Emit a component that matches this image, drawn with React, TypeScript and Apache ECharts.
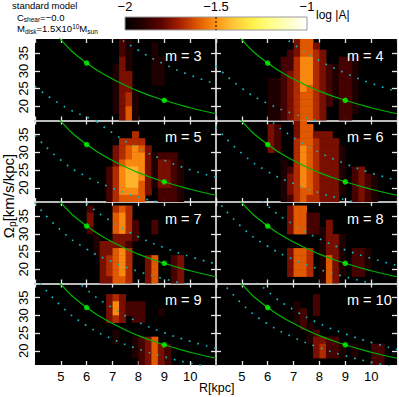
import React, { useEffect, useRef } from 'react';
import * as echarts from 'echarts';

// ---------- data ----------
const MODES = [3, 4, 5, 6, 7, 8, 9, 10];
const R_SAMPLES = [4, 5, 6, 7, 8, 9, 10, 11];
const PATTERN_SPEED = [48.5, 38.8, 32.2, 27.7, 24.3, 21.7, 19.6, 17.9];
const MARK_R = [6, 9];
const MARK_OMEGA = [32.2, 21.7];
const OUTER_RES = [
  [71.4, 57.1, 47.4, 40.8, 35.8, 31.9, 28.8, 26.3],
  [65.6, 52.5, 43.6, 37.5, 32.9, 29.4, 26.5, 24.2],
  [62.2, 49.8, 41.3, 35.5, 31.2, 27.8, 25.1, 23.0],
  [59.9, 47.9, 39.8, 34.2, 30.0, 26.8, 24.2, 22.1],
  [58.3, 46.6, 38.7, 33.3, 29.2, 26.1, 23.6, 21.5],
  [57.1, 45.7, 37.9, 32.6, 28.6, 25.5, 23.1, 21.1],
  [56.1, 44.9, 37.3, 32.1, 28.1, 25.1, 22.7, 20.7],
  [55.4, 44.3, 36.8, 31.6, 27.7, 24.8, 22.4, 20.4],
];
const INNER_RES = [
  [25.6, 20.5, 17.0, 14.6, 12.8, 11.5, 10.4, 9.5],
  [31.4, 25.1, 20.8, 17.9, 15.7, 14.0, 12.7, 11.6],
  [34.8, 27.8, 23.1, 19.9, 17.4, 15.6, 14.1, 12.8],
  [37.1, 29.7, 24.6, 21.2, 18.6, 16.6, 15.0, 13.7],
  [38.7, 31.0, 25.7, 22.1, 19.4, 17.3, 15.6, 14.3],
  [39.9, 31.9, 26.5, 22.8, 20.0, 17.9, 16.1, 14.7],
  [40.9, 32.7, 27.1, 23.3, 20.5, 18.3, 16.5, 15.1],
  [41.6, 33.3, 27.6, 23.8, 20.9, 18.6, 16.8, 15.4],
];

// heat levels: each char = level (log|A| = -2 + 0.08*level), rows from top bin (38-40) downward,
// first char of each row is the R bin given in HEAT_START (bin width 0.25 kpc from R = 4)
const HEAT_START = [12, 8, 11, 8, 8, 11, 11, 12];
const HEAT_M3 = ['021', '0210001', '0210001', '03100011', '13100011', '13300011', '13300011', '133', '1341', '1341', '1351', '0351'];
const HEAT_M4 = ['0000355', '00003553', '000235543', '00224664300221', '00224664321221', '00234664321221', '11234664321221', '11234654321221', '11234554321221', '11234554320221', '11234554300221', '1123455430022'];
const HEAT_M5 = ['', '', '00004', '004444', '0345653', '03456631222', '035666313321', '246776313321', '246776313321', '246775313321', '246665302221', '245555002221'];
const HEAT_M6 = ['000035', '3200355', '3200355333', '32004554333', '320046543331', '000046543331', '001046543331', '001246543331023', '00134654333102321', '00134654333102321', '00134554333102321', '00124544333002321'];
const HEAT_M7 = ['', '2000454', '3000564', '30005642002', '20005642002', '01003332', '0133332', '0133564', '003456400350023', '003456400350023', '003456400350023', '003355400350023'];
const HEAT_M8 = ['', '355', '35522', '3552203', '3552213', '000001331', '000001331', '3554013310221', '3554015310221', '3554015310221', '355401531022', '00000153'];
const HEAT_M9 = ['', '', '343', '363222', '363222001', '343022', '', '01', '01001235', '0000123532', '0000123532', '0000023532'];
const HEAT_M10 = ['', '', '0002', '1002', '1202', '12', '021', '0012', '0013322', '00034221010022', '00034221010022', '00000000000022'];
const HEAT_ROWS = [HEAT_M3, HEAT_M4, HEAT_M5, HEAT_M6, HEAT_M7, HEAT_M8, HEAT_M9, HEAT_M10];

const Y_TICKS = [20, 25, 30, 35];
const COLORBAR_TICKS = [-2, -1.5, -1];
const CMAP = ['#000000', '#260000', '#5c0400', '#a42000', '#e05800', '#ff9414', '#ffc83a', '#fff048', '#ffff88', '#ffffc4', '#ffffff'];

// ---------- layout ----------
const R_MIN = 4, R_MAX = 11, R_BIN = 0.25;
const OM_MIN = 16, OM_MAX = 39, OM_BIN = 2, OM_TOP_BIN = 38;
const LOG_MIN = -2, LOG_MAX = -1, LEVEL_STEP = 0.08;
const ROW_TOPS = [39, 120.5, 202, 283.5];
const ROW_H = 81.5;
const COL_LEFTS = [35, 216];
const COL_W = 181;
const FONT = '"Liberation Sans", Arial, Helvetica, sans-serif';
const CB = { x: 125, y: 17, w: 182, h: 13 };

function cellsFor(i: number) {
  const out: number[][] = [];
  HEAT_ROWS[i].forEach((row, r) => {
    for (let k = 0; k < row.length; k++) {
      const lvl = Number(row[k]);
      if (lvl > 0) out.push([R_MIN + (HEAT_START[i] + k) * R_BIN, OM_TOP_BIN - r * OM_BIN, LOG_MIN + lvl * LEVEL_STEP]);
    }
  });
  return out;
}

const renderHeatCell = (params: any, api: any) => {
  const r0 = api.value(0), o0 = api.value(1);
  const a = api.coord([r0, o0 + OM_BIN]);
  const b = api.coord([r0 + R_BIN, o0]);
  const cs = params.coordSys;
  const shape = echarts.graphic.clipRectByRect(
    { x: a[0], y: a[1], width: b[0] - a[0] + 0.5, height: b[1] - a[1] + 0.5 },
    { x: cs.x, y: cs.y, width: cs.width, height: cs.height }
  );
  if (!shape) return null;
  return { type: 'rect', shape, style: { fill: api.visual('color') } };
};

export default function App() {
  const ref = useRef<HTMLDivElement>(null);
  useEffect(() => {
    const chart = echarts.init(ref.current!, undefined, { renderer: 'svg' });
    const grids: any[] = [];
    const xAxes: any[] = [];
    const yAxes: any[] = [];
    const heat: any[] = [];
    const lines: any[] = [];
    const graphics: any[] = [];
    const tickStyle = { color: '#e6e6e6', width: 1.3 };
    MODES.forEach((m, i) => {
      const row = Math.floor(i / 2), col = i % 2;
      grids.push({ left: COL_LEFTS[col], top: ROW_TOPS[row], width: COL_W, height: ROW_H, show: true, backgroundColor: '#000', borderWidth: 0 });
      const xBase = { type: 'value', gridIndex: i, min: R_MIN, max: R_MAX, interval: 1, splitLine: { show: false } };
      xAxes.push({
        ...xBase, position: 'bottom',
        axisLine: { show: row < 3, onZero: false, lineStyle: { color: '#bdbdbd', width: 2 } },
        axisTick: { show: true, inside: true, length: 4, lineStyle: tickStyle },
        axisLabel: { show: row === 3, showMinLabel: false, showMaxLabel: false, fontSize: 13, fontFamily: FONT, color: '#000', margin: 5 },
      });
      xAxes.push({
        ...xBase, position: 'top',
        axisLine: { show: false, onZero: false },
        axisTick: { show: true, inside: true, length: 4, lineStyle: tickStyle },
        axisLabel: { show: false },
      });
      const yBase = { type: 'value', gridIndex: i, min: OM_MIN, max: OM_MAX, splitLine: { show: false } };
      yAxes.push({
        ...yBase, position: 'left',
        axisLine: { show: col === 1, onZero: false, lineStyle: { color: '#bdbdbd', width: 2 } },
        axisTick: { show: true, inside: true, length: 5, customValues: Y_TICKS, lineStyle: tickStyle },
        axisLabel: { show: col === 0, customValues: Y_TICKS, rotate: 90, fontSize: 13, fontFamily: FONT, color: '#000', margin: 5 },
      });
      yAxes.push({
        ...yBase, position: 'right',
        axisLine: { show: col === 1, onZero: false, lineStyle: { color: '#e8e8e8', width: 1 } },
        axisTick: { show: true, inside: true, length: 5, customValues: Y_TICKS, lineStyle: tickStyle },
        axisLabel: { show: false, customValues: Y_TICKS },
      });
      heat.push({
        type: 'custom', xAxisIndex: 2 * i, yAxisIndex: 2 * i, data: cellsFor(i),
        encode: { x: 0, y: 1 }, renderItem: renderHeatCell, silent: true, z: 1,
      });
      const dotted = { color: '#14b4bc', width: 1.7, type: [1.7, 7] };
      lines.push({
        type: 'line', xAxisIndex: 2 * i, yAxisIndex: 2 * i, smooth: true, showSymbol: false, silent: true, z: 3,
        data: R_SAMPLES.map((r, k) => [r, OUTER_RES[i][k]]), lineStyle: dotted,
      });
      lines.push({
        type: 'line', xAxisIndex: 2 * i, yAxisIndex: 2 * i, smooth: true, showSymbol: false, silent: true, z: 3,
        data: R_SAMPLES.map((r, k) => [r, INNER_RES[i][k]]), lineStyle: dotted,
      });
      lines.push({
        type: 'line', xAxisIndex: 2 * i, yAxisIndex: 2 * i, smooth: true, showSymbol: false, silent: true, z: 4,
        data: R_SAMPLES.map((r, k) => [r, PATTERN_SPEED[k]]), lineStyle: { color: '#00b400', width: 1.2 },
      });
      lines.push({
        type: 'scatter', xAxisIndex: 2 * i, yAxisIndex: 2 * i, symbol: 'circle', symbolSize: 5.5, silent: true, z: 5,
        data: MARK_R.map((r, k) => [r, MARK_OMEGA[k]]), itemStyle: { color: '#00ff00' },
      });
      graphics.push({
        type: 'text', x: col === 0 ? 165 : 347, y: ROW_TOPS[row] + 16.5, z: 100,
        style: { text: 'm = ' + m, fill: '#ffffff', fontSize: 14.5, fontFamily: FONT, verticalAlign: 'middle' },
      });
    });

    // colorbar
    const gradStops = CMAP.map((c, k) => ({ offset: k / (CMAP.length - 1), color: c }));
    graphics.push({
      type: 'rect', shape: { x: CB.x, y: CB.y, width: CB.w, height: CB.h },
      style: { fill: new echarts.graphic.LinearGradient(0, 0, 1, 0, gradStops), stroke: '#9a9a9a', lineWidth: 1 },
    });
    const midX = CB.x + ((-1.5 - LOG_MIN) / (LOG_MAX - LOG_MIN)) * CB.w;
    graphics.push({
      type: 'line', shape: { x1: midX, y1: CB.y, x2: midX, y2: CB.y + CB.h },
      style: { stroke: '#000', lineWidth: 1, lineDash: [2, 2] },
    });
    COLORBAR_TICKS.forEach((v) => {
      graphics.push({
        type: 'text', x: CB.x + ((v - LOG_MIN) / (LOG_MAX - LOG_MIN)) * CB.w, y: 6,
        style: { text: String(v).replace('-', '\u2212'), fill: '#000', fontSize: 13, fontFamily: FONT, align: 'center', verticalAlign: 'middle' },
      });
    });
    graphics.push({
      type: 'text', x: 316, y: 15,
      style: { text: 'log |A|', fill: '#000', fontSize: 12, fontFamily: FONT, verticalAlign: 'middle' },
    });

    // annotations
    graphics.push({
      type: 'text', x: 12, y: 5.5,
      style: { text: 'standard model', fill: '#000', fontSize: 9.5, fontFamily: FONT, verticalAlign: 'middle' },
    });
    const richSmall = {
      n: { fontSize: 9.5, fontFamily: FONT, fill: '#000', lineHeight: 12 },
      s: { fontSize: 6.5, fontFamily: FONT, fill: '#000', lineHeight: 7, verticalAlign: 'bottom' },
      p: { fontSize: 6.5, fontFamily: FONT, fill: '#000', lineHeight: 7, verticalAlign: 'top' },
    };
    graphics.push({
      type: 'text', x: 17, y: 17,
      style: { text: '{n|C}{s|shear}{n|=\u22120.0}', rich: richSmall, verticalAlign: 'middle' },
    });
    graphics.push({
      type: 'text', x: 17, y: 28.5,
      style: { text: '{n|M}{s|disk}{n|=1.5X10}{p|10}{n|M}{s|sun}', rich: richSmall, verticalAlign: 'middle' },
    });
    graphics.push({
      type: 'text', x: 8, y: 196, rotation: Math.PI / 2,
      style: {
        text: '{n|\u03a9}{s|p}{n|[km/s/kpc]}', align: 'center', verticalAlign: 'middle',
        rich: {
          n: { fontSize: 15, fontFamily: FONT, fill: '#000', lineHeight: 18 },
          s: { fontSize: 10, fontFamily: FONT, fill: '#000', lineHeight: 10, verticalAlign: 'bottom' },
        },
      },
    });
    graphics.push({
      type: 'text', x: 199, y: 388,
      style: { text: 'R[kpc]', fill: '#000', fontSize: 12.5, fontFamily: FONT, verticalAlign: 'middle' },
    });

    chart.setOption({
      animation: false,
      backgroundColor: '#ffffff',
      grid: grids,
      xAxis: xAxes,
      yAxis: yAxes,
      visualMap: {
        type: 'continuous', show: false, min: LOG_MIN, max: LOG_MAX, dimension: 2,
        seriesIndex: heat.map((_, k) => k), inRange: { color: CMAP },
      },
      series: [...heat, ...lines],
      graphic: graphics,
    });
    return () => chart.dispose();
  }, []);
  return <div ref={ref} style={{ position: 'fixed', left: 0, top: 0, width: 399, height: 397, background: '#fff' }} />;
}
